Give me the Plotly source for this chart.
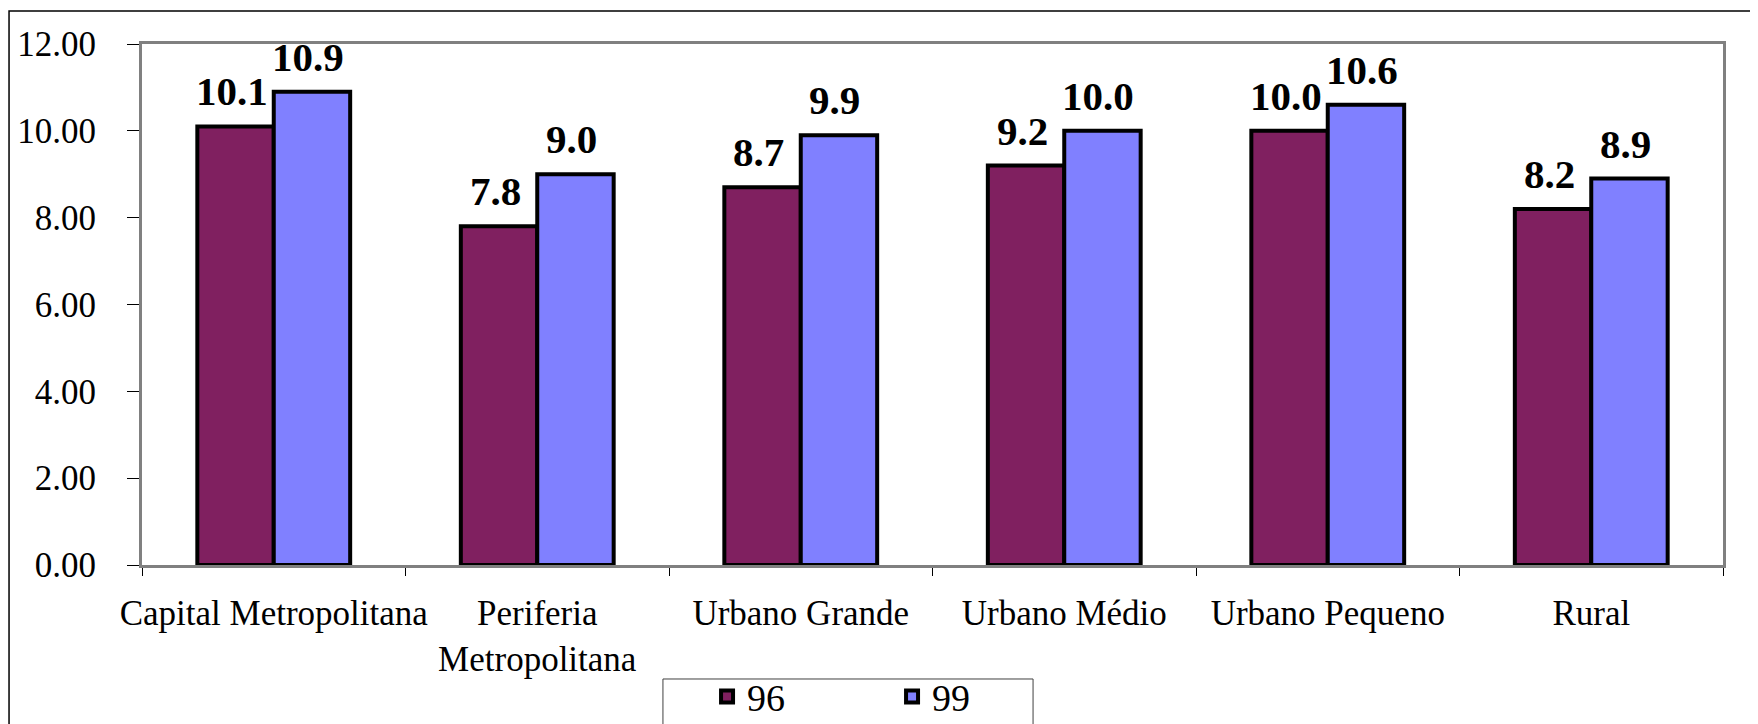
import plotly.graph_objects as go

categories = ["Capital Metropolitana", "Periferia<br>Metropolitana", "Urbano Grande",
              "Urbano Médio", "Urbano Pequeno", "Rural"]
series_names = ["96", "99"]
values_96 = [10.1, 7.8, 8.7, 9.2, 10.0, 8.2]
values_99 = [10.9, 9.0, 9.9, 10.0, 10.6, 8.9]
y_ticks = [0, 2, 4, 6, 8, 10, 12]

FONT = "Liberation Serif"
colors = ["#802060", "#8080FF"]

W, H = 1750, 716
L, R, T, B = 134, 35, 36, 159
BARGAP = 0.42

fig = go.Figure()
for name, vals, col in zip(series_names, [values_96, values_99], colors):
    fig.add_trace(go.Bar(
        x=categories, y=vals, name=name,
        marker=dict(color=col, line=dict(color="black", width=4)),
        cliponaxis=False,
    ))

# value labels above bars
cat_px = (W - L - R) / len(categories)
bar_off = cat_px * (1 - BARGAP) / 4
annotations = []
for si, vals in enumerate([values_96, values_99]):
    shift = (-bar_off if si == 0 else bar_off) - 4
    for c, v in zip(categories, vals):
        annotations.append(dict(
            x=c, y=v, xref="x", yref="y", text=f"{v:.1f}", showarrow=False,
            xanchor="center", yanchor="bottom", xshift=shift, yshift=10,
            font=dict(family=FONT, size=41, color="black", weight="bold"),
        ))

fig.update_layout(
    width=W, height=H,
    margin=dict(l=L, r=R, t=T, b=B, autoexpand=False),
    paper_bgcolor="white", plot_bgcolor="white",
    barmode="group", bargap=BARGAP, bargroupgap=0,
    font=dict(family=FONT, size=35, color="black"),
    showlegend=True,
    legend=dict(orientation="h", x=0.3574, y=-0.1925, xanchor="left", yanchor="top",
                font=dict(family=FONT, size=38, color="black"),
                borderwidth=0, bgcolor="rgba(0,0,0,0)",
                entrywidth=140, traceorder="normal"),
    xaxis=dict(type="category", showline=True, linecolor="#808080", linewidth=3, mirror=True,
               ticks="outside", tickson="boundaries", ticklen=8, tickcolor="black", tickwidth=1,
               showgrid=False, ticklabelstandoff=15, tickangle=0, automargin=False,
               tickfont=dict(family=FONT, size=35, color="black")),
    yaxis=dict(range=[0, 12], tickvals=y_ticks, tickformat=".2f", automargin=False,
               showline=True, linecolor="#808080", linewidth=3, mirror=True,
               ticks="outside", ticklen=12, tickcolor="black", tickwidth=1,
               showgrid=False, zeroline=False, ticklabelstandoff=24,
               tickfont=dict(family=FONT, size=35, color="black")),
    annotations=annotations,
    shapes=[
        dict(type="rect", xref="paper", yref="paper",
             x0=-0.0841, x1=1.2, y0=-0.6, y1=1.0633,
             line=dict(color="black", width=1.5), fillcolor="rgba(0,0,0,0)", layer="below"),
        dict(type="rect", xref="paper", yref="paper",
             x0=0.3295, x1=0.5636, y0=-0.45, y1=-0.2188,
             line=dict(color="#404040", width=1), fillcolor="rgba(0,0,0,0)", layer="below"),
    ],
)

fig.write_html("out.html")
